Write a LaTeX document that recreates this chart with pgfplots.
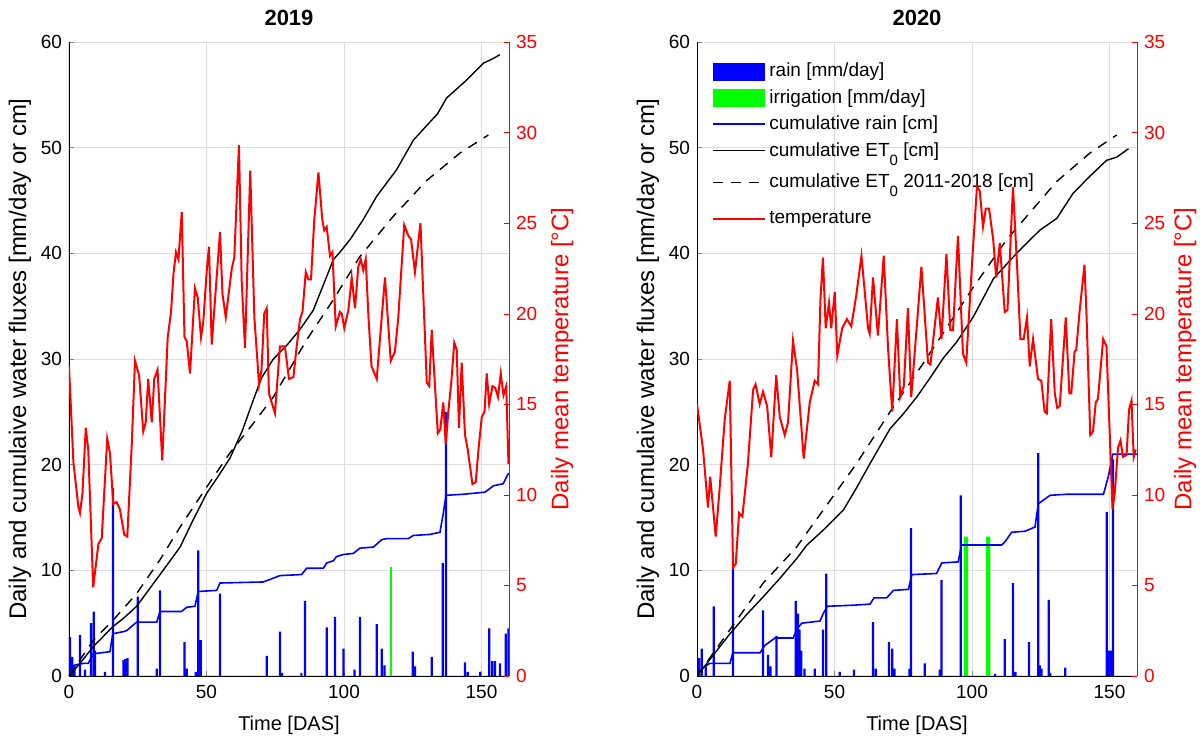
\documentclass[border=0pt]{standalone}
\usepackage{fontspec}
\setmainfont{Liberation Sans}
\usepackage{pgfplots}
\pgfplotsset{compat=1.18}
\definecolor{mblue}{RGB}{0,0,255}
\definecolor{mgreen}{RGB}{0,255,0}
\definecolor{mred}{RGB}{255,0,0}
\definecolor{mgrid}{RGB}{222,222,222}
\newcommand{\sub}[1]{\raisebox{-4.5pt}{\fontsize{7.5}{8}\selectfont #1}}

\pgfplotsset{
  base/.style={
    scale only axis, width=220pt, height=317pt,
    xmin=0, xmax=160,
    /pgf/number format/assume math mode=true,
    tick label style={font=\fontsize{9.5}{11}\selectfont},
    xticklabel style={yshift=-1pt},
    xlabel style={font=\fontsize{10}{12}\selectfont, yshift=-2pt},
    ylabel style={font=\fontsize{12}{14}\selectfont},
    tick align=inside, major tick length=2.5pt,
    axis line style={-},
    legend image code/.code={\draw[#1] (0pt,0pt) -- (26pt,0pt);},
  },
  leftax/.style={base,
    ymin=0, ymax=60, ytick={0,10,...,60}, xtick={0,50,100,150},
    axis x line*=bottom, axis y line*=left,
    grid=major, grid style={mgrid, line width=0.5pt},
    xlabel={Time [DAS]},
    ylabel={Daily and cumulaive water fluxes [mm/day or cm]},
    ylabel style={yshift=-2pt},
    title style={font=\bfseries\fontsize{11}{13}\selectfont, yshift=-1.5pt},
  },
  rightax/.style={base,
    ymin=0, ymax=35, ytick={0,5,...,35},
    axis x line=none, axis y line*=right,
    y axis line style={mred}, ytick style={mred}, yticklabel style={mred},
    ylabel={Daily mean temperature [°C]}, ylabel style={mred},
  },
  rain/.style={ybar, bar width=1.1pt, bar shift=0pt, fill=mblue, draw=none,
    legend image code/.code={\fill[mblue] (0pt,-4.5pt) rectangle (26pt,4.5pt);}},
  irr/.style={ybar, bar shift=0pt, fill=mgreen, draw=none,
    legend image code/.code={\fill[mgreen] (0pt,-4.5pt) rectangle (26pt,4.5pt);}},
  crain/.style={mblue, line width=0.8pt, no markers},
  et/.style={black, line width=0.7pt, no markers,
    legend image code/.code={\draw[#1] (0pt,0pt) -- (26pt,0pt); \path (0pt,-8pt);}},
  eth/.style={black, line width=0.7pt, no markers, dash pattern=on 5pt off 4pt,
    legend image code/.code={\draw[#1] (0pt,0pt) -- (26pt,0pt); \path (0pt,-11pt);}},
  temp/.style={mred, line width=1pt, no markers},
}

\begin{document}
\begin{tikzpicture}
\path[use as bounding box] (0,0) rectangle (600pt,369pt);

% ================= 2019 =================
\begin{axis}[leftax, at={(34.5pt,31pt)}, anchor=south west, title={2019}]
\addplot[rain] coordinates {(0.4,3.7) (1.2,1.8) (2,1.0) (4,3.9) (5.8,0.6) (8,5.0) (9,6.1) (9.5,2.4) (13.1,0.4) (16,17.8) (19.8,1.5) (20.4,1.6) (21.3,1.7) (25,7.5) (31.9,0.7) (33.1,8.1) (42,3.2) (42.8,0.7) (46.1,0.4) (47,11.9) (47.9,3.4) (54.9,7.8) (71.9,1.9) (76.7,4.2) (77.5,0.3) (84.5,0.3) (85.8,7.1) (93.7,4.6) (96.7,5.6) (99.8,2.6) (103.8,0.6) (105.8,5.6) (111.9,4.9) (113.7,2.6) (114.7,1.0) (125,2.3) (125.8,0.9) (131.9,1.8) (135.9,10.7) (137.1,25.0) (144,1.3) (145,0.4) (149.5,0.4) (152.8,4.5) (153.9,1.4) (154.9,1.4) (156.7,1.2) (158.8,4.0) (159.8,4.5)};
\addplot[irr, bar width=1.1pt] coordinates {(117,10.3)};
\addplot[crain] coordinates {(0,0) (1.6,1.0) (5.2,1.2) (7,1.2) (8.9,2.1) (14.9,2.3) (15.9,4.0) (19.8,4.2) (21,4.3) (24.6,5.1) (31.9,5.1) (33.1,6.1) (40.9,6.1) (42.8,6.5) (45.8,6.6) (47,8.0) (53.7,8.1) (54.9,8.8) (70.7,8.9) (76.7,9.5) (84.6,9.6) (86.4,10.2) (92.5,10.2) (93.7,10.7) (96.1,10.9) (97.3,11.3) (99.8,11.5) (103.4,11.6) (105.8,12.1) (110.7,12.2) (113.7,12.9) (115.5,13.0) (123.4,13.0) (125.2,13.3) (131.3,13.4) (134.9,13.6) (136.1,15.4) (137.1,17.1) (143.4,17.2) (151.3,17.4) (154.3,18.0) (157.9,18.2) (159.4,19.0) (160,19.2)};
\addplot[et] coordinates {(0,0) (4,1.2) (8.9,2.8) (16.1,4.7) (20,5.5) (24.6,6.6) (28,7.8) (33.1,9.6) (40.4,12.2) (45,14.7) (50.1,17.3) (54,18.8) (58.5,20.6) (63,23.2) (67,26.1) (70,28.2) (74.3,30.0) (79.2,31.3) (84,32.8) (88.8,34.6) (93.7,37.8) (96.1,39.4) (98.5,40.1) (102.2,41.3) (107,43.2) (111.9,45.4) (119.1,47.9) (125.2,50.7) (130.1,52.1) (134,53.2) (137.3,54.7) (144.6,56.4) (150.7,58.0) (154,58.4) (156.7,58.8)};
\addplot[eth] coordinates {(0,0) (8.9,3.4) (16.1,5.3) (24.6,7.8) (33.1,11.0) (40.4,14.1) (50.1,17.9) (58.5,21.1) (67,23.9) (74.3,26.4) (86.4,31.8) (96.1,35.6) (105.8,39.7) (117.9,43.5) (130.1,46.9) (142.2,49.5) (152.5,51.2)};
\end{axis}
\begin{axis}[rightax, at={(34.5pt,31pt)}, anchor=south west]
\addplot[temp] coordinates {(0,17.1) (1.6,11.8) (3.4,9.35) (4,9.0) (4.9,10.1) (6.1,13.7) (7.0,12.5) (8.8,4.9) (10.7,7.3) (11.9,7.6) (13.9,13.1) (14.9,12.3) (16.1,9.5) (17.3,9.6) (18.5,9.2) (20.1,7.8) (21.2,7.7) (22.8,12.7) (24,17.4) (25.5,16.6) (27,13.5) (27.9,14.0) (28.8,16.4) (30.1,14.0) (31,16.4) (32.2,16.9) (33.9,11.9) (35.9,18.7) (37.1,20.1) (38,22.2) (38.9,23.4) (39.8,23.0) (41,25.6) (42,18.7) (42.8,18.5) (44,16.7) (45.8,21.4) (46.8,20.9) (48,18.7) (48.8,19.5) (50.1,22.4) (50.9,23.7) (51.9,18.3) (54.9,24.5) (55.8,21.1) (57,19.8) (59.2,22.5) (60.1,23.1) (61.8,29.3) (62.8,21.8) (64,18.1) (65.9,27.9) (67.4,19.8) (69.1,16.1) (70,16.9) (71,20.0) (71.9,20.3) (72.7,15.6) (74.9,14.5) (76.7,18.2) (78.5,18.2) (80,16.4) (81.6,16.5) (82.8,18.2) (84,19.7) (84.9,20.1) (86.1,22.3) (87,21.9) (88,21.9) (89.2,25.2) (90.7,27.8) (92.1,25.2) (92.8,24.6) (93.7,24.8) (94.9,23.2) (95.8,23.4) (97,19.3) (98.5,20.1) (99.2,20.0) (100.1,19.2) (101.6,20.2) (102.8,22.0) (104,20.3) (105.2,22.6) (106.1,23.0) (107,22.4) (107.9,23.0) (108.9,19.8) (110,17.1) (111.9,16.4) (114.9,22.0) (117,17.4) (118.5,17.9) (119.7,19.7) (121.9,24.9) (123.4,24.3) (124.4,24.1) (125.8,22.3) (127.8,25.0) (130.1,16.2) (131,16.0) (131.9,19.1) (132.9,16.5) (134.1,13.4) (135,13.6) (136.1,15.1) (137,12.8) (138,14.7) (139,16.2) (140.1,18.4) (141,18.0) (141.8,13.7) (142.8,17.3) (144,13.3) (145,12.5) (146.7,10.6) (147.9,10.7) (148.9,12.5) (150.1,14.3) (151.1,14.6) (151.9,16.7) (152.8,15.0) (154,16.0) (155,15.9) (156,15.4) (157,16.7) (158,15.5) (159,16.0) (159.8,11.7)};
\end{axis}

% ================= 2020 =================
\begin{axis}[leftax, at={(348.5pt,31pt)}, anchor=south west, title={2020},
  legend style={at={(0.034,0.972)}, anchor=north west, draw=none, fill=none,
    font=\fontsize{9.5}{11}\selectfont, row sep=1.8pt, legend cell align=left,
    inner sep=0pt, nodes={inner sep=1.5pt}}]
\addplot[rain] coordinates {(0.7,1.7) (1.7,2.6) (3.2,0.9) (6.1,6.6) (13.1,10.3) (24,6.2) (25.8,2.0) (26.7,0.9) (28.9,3.8) (35.9,7.1) (36.7,5.9) (37.3,4.4) (37.9,2.4) (39.1,0.7) (42.8,0.7) (45.8,4.4) (47,9.7) (51.9,0.4) (57.1,0.6) (64,5.1) (65,0.7) (69.8,3.2) (71,2.6) (71.8,0.7) (77.3,0.7) (77.8,14.0) (82.8,1.2) (88.3,0.6) (88.9,9.1) (95.9,17.1) (108.4,0.2) (111.9,3.5) (114.9,8.8) (115.8,0.4) (120.7,3.2) (124.1,21.1) (124.6,1.0) (125.3,0.7) (127.9,7.2) (128.5,0.3) (133.9,0.8) (149,15.5) (149.8,2.4) (150.5,2.4) (151.3,20.5)};
\addlegendentry{rain [mm/day]}
\addplot[irr, bar width=2.2pt] coordinates {(97.8,13.2) (105.9,13.2)};
\addlegendentry{irrigation [mm/day]}
\addplot[crain] coordinates {(0,0) (2.3,0.8) (4.7,1.2) (12,1.2) (13,2.2) (22.9,2.2) (24.7,2.9) (28.4,3.6) (35,3.6) (36.2,4.4) (38.1,5.0) (44.7,5.2) (45.9,5.9) (47.4,6.6) (56.9,6.7) (62.9,6.8) (64.4,7.4) (69,7.4) (71.4,8.1) (76.9,8.2) (78.1,9.6) (87.1,9.7) (89,10.7) (95,10.8) (96.2,12.4) (110.8,12.4) (112,12.7) (114.4,13.6) (119.3,13.7) (122.9,14.1) (124.1,16.3) (128.4,17.1) (134.4,17.2) (147.8,17.2) (149.6,18.9) (151.2,21.0) (160,21.0)};
\addlegendentry{cumulative rain [cm]}
\addplot[et] coordinates {(0,0) (6,2.0) (12,4.0) (18,5.8) (24.1,7.5) (30,9.2) (36.2,11.1) (40,12.4) (45.9,13.8) (53.2,15.7) (58,17.8) (62.9,20.1) (70.2,23.4) (75,24.8) (79.9,26.4) (85,28.3) (89.6,30.1) (94.4,31.6) (100.5,34.0) (107.8,37.6) (116.2,40.0) (124.7,42.2) (130.8,43.3) (136.8,45.7) (142.9,47.3) (148.9,48.8) (152.6,49.1) (156.9,49.9)};
\addlegendentry{cumulative ET\sub{0} [cm]}
\addplot[eth] coordinates {(0,0) (12,4.4) (24.1,8.8) (36.2,12.2) (45.9,15.7) (58,20.1) (70.2,25.0) (82.3,29.6) (100.5,36.8) (112.6,41.3) (130.8,46.8) (142.9,49.5) (152.6,51.2)};
\addlegendentry{cumulative ET\sub{0} 2011-2018 [cm]}
\addlegendimage{temp}
\addlegendentry{temperature}
\end{axis}
\begin{axis}[rightax, at={(348.5pt,31pt)}, anchor=south west, ylabel style={yshift=2.5pt}]
\addplot[temp] coordinates {(0,15.0) (2.2,12.5) (4,9.3) (4.8,11.0) (6.8,7.7) (8.2,10.3) (10.1,14.2) (11.9,16.3) (13.1,6.0) (14.1,6.2) (15.3,9.0) (16.5,8.8) (18.5,11.7) (20.4,15.8) (21.3,16.1) (22.8,15.0) (24,15.7) (25.5,14.9) (27,12.1) (28.8,16.6) (30.1,14.3) (31.9,13.3) (33.1,14.0) (34.9,18.5) (36.4,16.9) (38.8,12.0) (41,15.1) (42.8,16.3) (44,16.1) (44.9,20.8) (45.8,23.1) (46.8,19.2) (48,20.6) (48.8,19.2) (50.1,21.2) (51,17.7) (52.8,19.2) (54.5,19.7) (56.1,19.3) (57.9,21.0) (59.8,23.2) (62.2,19.2) (62.8,18.9) (64,22.0) (65.8,18.8) (67.9,23.2) (69.5,18.0) (71,14.6) (72.7,19.7) (73.9,15.4) (75.2,16.0) (76.7,20.3) (77.9,15.4) (79.5,18.5) (81.6,22.6) (84,17.3) (84.9,17.2) (87.6,20.9) (88.9,18.6) (90.7,23.3) (92.1,19.1) (93.1,19.1) (94.9,24.3) (96.7,17.8) (97.9,17.3) (100.1,23.0) (101.8,27.0) (102.8,26.8) (104,24.8) (105,25.8) (106.2,25.8) (107.7,24.1) (108.8,22.0) (110.1,23.9) (111.9,20.1) (112.9,20.2) (114.9,27.0) (116.4,22.6) (117.6,18.6) (118.8,18.6) (120,19.8) (121,17.1) (122.2,18.6) (124,16.4) (125.2,16.3) (126.4,14.6) (127.2,14.5) (128.8,19.7) (130.1,15.6) (131,14.8) (131.9,14.9) (134.1,19.8) (135.4,15.6) (136.1,15.6) (137.3,17.9) (137.9,18.0) (139.1,20.1) (140.9,22.7) (141.6,20.1) (143,13.3) (144,13.5) (145,15.1) (145.8,15.3) (147.7,18.6) (148.9,18.2) (151.1,9.2) (151.9,10.1) (153.1,12.6) (154,13.0) (154.9,12.1) (156.2,12.2) (157.1,14.7) (158,15.2) (158.8,12.1) (159.5,12.5)};
\end{axis}
\end{tikzpicture}
\end{document}
